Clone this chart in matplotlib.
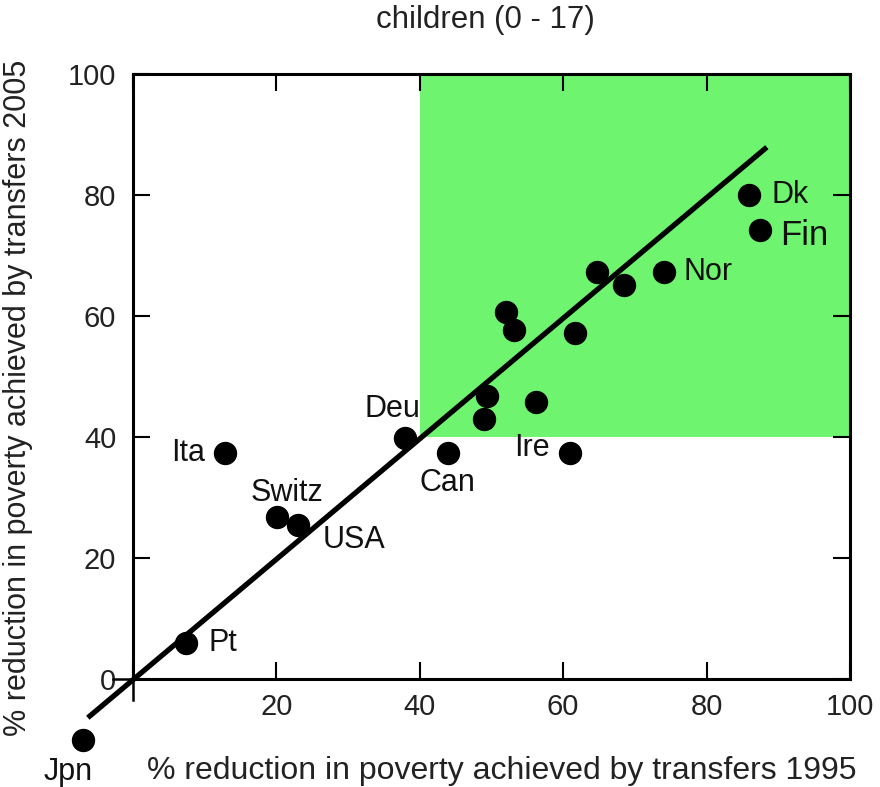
import matplotlib.pyplot as plt
from matplotlib.patches import Rectangle

plt.rcParams['font.family'] = ['Liberation Sans', 'DejaVu Sans']

# % reduction in child poverty achieved by transfers
countries = ['Jpn', 'Pt', 'Ita', 'Switz', 'USA', 'Deu', 'Can', '', '', '', '', '',
             '', 'Ire', '', '', 'Nor', 'Dk', 'Fin']
red_1995 = [-7.0, 7.4, 12.8, 20.1, 23.0, 37.9, 43.9, 49.4, 49.0, 56.2, 52.0, 53.1,
            61.6, 61.0, 64.7, 68.5, 74.1, 85.9, 87.4]
red_2005 = [-10.1, 6.0, 37.4, 26.8, 25.5, 39.8, 37.4, 46.8, 43.0, 45.8, 60.7, 57.7,
            57.2, 37.4, 67.3, 65.1, 67.3, 80.0, 74.2]

# fitted line end points
fit_x = [-6.3, 88.4]
fit_y = [-6.4, 87.9]

xtick_labels = ['', '20', '40', '60', '80', '100']
ytick_labels = ['0', '20', '40', '60', '80', '100']

# label offsets in pixels (dx, dy, ha, size)
label_pos = {
    'Jpn': (-15, -32, 'center', 22),
    'Pt': (22, 0, 'left', 22),
    'Ita': (-20, 0, 'right', 22),
    'Switz': (10, 24, 'center', 22),
    'USA': (25, -15, 'left', 22),
    'Deu': (-12, 29, 'center', 22),
    'Can': (0, -30, 'center', 22),
    'Ire': (-38, 5, 'center', 22),
    'Nor': (19, 0, 'left', 22),
    'Dk': (23, 0, 'left', 22),
    'Fin': (20, -5, 'left', 25),
}

fig = plt.figure(figsize=(8.8, 7.87), dpi=100)
ax = fig.add_axes([0.1511, 0.1372, 0.8148, 0.7688])
ax.set_xlim(0, 100)
ax.set_ylim(0, 100)

# green zone
ax.add_patch(Rectangle((40, 40), 60, 60, facecolor='#6ef46e', edgecolor='none', zorder=0))

ax.plot(fit_x, fit_y, color='black', lw=3.8, solid_capstyle='butt', clip_on=False, zorder=2)
ax.scatter(red_1995, red_2005, s=250, color='black', clip_on=False, zorder=3)

for name, x, y in zip(countries, red_1995, red_2005):
    if name == '':
        continue
    dx, dy, ha, fs = label_pos[name]
    ax.annotate(name, (x, y), xytext=(dx, dy), textcoords='offset pixels',
                ha=ha, va='center', fontsize=fs, color='#111111', annotation_clip=False)

ticks = [0, 20, 40, 60, 80, 100]
ax.set_xticks(ticks, xtick_labels)
ax.set_yticks(ticks, ytick_labels)
ax.tick_params(direction='in', length=12, width=1.5, labelsize=21, pad=12,
               top=True, right=True, colors='black', labelcolor='#222222')
ax.tick_params(axis='x', pad=10)
for sp in ax.spines.values():
    sp.set_linewidth(2.2)

# little crossing at the origin
ax.plot([0, 0], [0, -3.5], color='black', lw=1.8, clip_on=False)
ax.plot([-2.8, 0], [0, 0], color='black', lw=1.8, clip_on=False)

ax.set_xlabel('% reduction in poverty achieved by transfers 1995', fontsize=23, color='#222222')
ax.xaxis.set_label_coords(0.515, -0.128)
ax.set_ylabel('% reduction in poverty achieved by transfers 2005', fontsize=22, color='#222222')
ax.yaxis.set_label_coords(-0.139, 0.465)
fig.text(485 / 880, 1 - 20 / 787, 'children (0 - 17)', fontsize=22.5, color='#222222',
         ha='center', va='center')

fig.savefig('out.png', dpi=100)
